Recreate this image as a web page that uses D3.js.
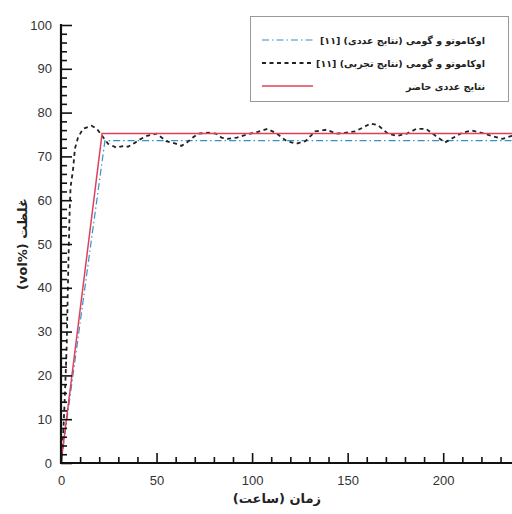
<!DOCTYPE html>
<html>
<head>
<meta charset="utf-8">
<script src="https://cdn.jsdelivr.net/npm/d3@7"></script>
<style>
  html, body { margin: 0; padding: 0; background: #fff; }
  svg { display: block; }
</style>
</head>
<body>
<svg id="chart" width="512" height="514"></svg>
<script>
// Hydrogen concentration over time: present simulation vs. Okamoto & Gomi [11]
const presentTime = [0, 21.5, 240];
const presentConc = [0, 75.2, 75.2];

const okaNumTime = [0, 23, 240];
const okaNumConc = [0, 73.6, 73.6];

const okaExpTime = [0, 1, 2, 3, 3.5, 4, 4.5, 5, 6.3, 7.3, 8.9, 11.5, 16, 18.8, 21.5, 24.6, 29,
  33, 35, 39, 41, 45, 50, 55, 60, 63, 66, 69, 72, 77, 81, 84, 87, 92, 95,
  99, 103, 108, 113, 118, 123, 128, 133, 139, 144, 149, 154, 158, 162,
  166, 171, 176, 181, 186, 191, 196, 201, 205, 210, 215, 220, 225, 231, 236, 240];
const okaExpConc = [0, 5, 15, 27, 38, 48, 57, 63, 67, 71.8, 74.3, 76.3, 77, 76.3, 74.7, 72.9, 72,
  72.4, 72.2, 73.2, 73.8, 74.7, 75.2, 73.5, 72.9, 72.4, 73.2, 74.3, 75.2, 75.4, 75.2, 74.3, 74, 74.3, 74.7,
  75.2, 75.6, 76.3, 75.2, 73.5, 72.9, 73.5, 75.7, 76.1, 75.2, 75.4, 75.7, 76.6, 77.5,
  77.1, 75.2, 74.7, 75.2, 76.3, 76.3, 74.7, 73.2, 74.2, 75.4, 75.9, 75.4, 74.7, 74, 74.7, 75];

const xTicks = [0, 50, 100, 150, 200];
const yTicks = [0, 10, 20, 30, 40, 50, 60, 70, 80, 90, 100];

const legendLabels = [
  "اوکاموتو و گومی (نتایج عددی) [۱۱]",
  "اوکاموتو و گومی (نتایج تجربی) [۱۱]",
  "نتایج عددی حاضر"
];
const xTitle = "زمان (ساعت)";
const yTitleWord = "غلظت";
const yTitleUnit = "(vol%)";

const svg = d3.select("#chart");
const x = d3.scaleLinear().domain([0, 236]).range([61, 512]);
const y = d3.scaleLinear().domain([0, 100]).range([463, 25]);

const line = d3.line().x(d => x(d[0])).y(d => y(d[1]));
svg.append("clipPath").attr("id", "plot")
  .append("rect").attr("x", 61).attr("y", 0).attr("width", 451).attr("height", 464);

const series = [
  { t: okaNumTime, v: okaNumConc, color: "#3a8fc8", width: 1.2, dash: "7,3,1.5,3" },
  { t: okaExpTime, v: okaExpConc, color: "#222", width: 1.8, dash: "4,3.5" },
  { t: presentTime, v: presentConc, color: "#e0405a", width: 1.5, dash: null }
];

const plot = svg.append("g").attr("clip-path", "url(#plot)");
series.forEach(s => {
  plot.append("path")
    .datum(d3.zip(s.t, s.v))
    .attr("d", line)
    .attr("fill", "none")
    .attr("stroke", s.color)
    .attr("stroke-width", s.width)
    .attr("stroke-dasharray", s.dash);
});

// Axes: major ticks with labels, minor ticks pointing inward
const xAxis = d3.axisBottom(x).tickValues(xTicks).tickSize(-10).tickPadding(13).tickFormat(d3.format("d"));
const xMinor = d3.axisBottom(x).tickValues(d3.range(0, 240, 10).filter(v => v % 50 !== 0)).tickSize(-6).tickFormat("");
const yAxis = d3.axisLeft(y).tickValues(yTicks).tickSize(-11).tickPadding(9).tickFormat(d3.format("d"));
const yMinor = d3.axisLeft(y).tickValues(d3.range(0, 100, 2).filter(v => v % 10 !== 0)).tickSize(-6).tickFormat("");

function styleAxis(g) {
  g.select(".domain").remove();
  g.selectAll(".tick line").attr("stroke", "#111").attr("stroke-width", 1.6);
  g.selectAll(".tick text").attr("fill", "#333").style("font-family", "Arial, 'Liberation Sans', sans-serif").style("font-size", "13px");
}
svg.append("g").attr("transform", "translate(0,463)").call(xMinor).call(styleAxis);
svg.append("g").attr("transform", "translate(0,463)").call(xAxis).call(styleAxis);
svg.append("g").attr("transform", "translate(61,0)").call(yMinor).call(styleAxis);
svg.append("g").attr("transform", "translate(61,0)").call(yAxis).call(styleAxis);

svg.append("line").attr("x1", 61).attr("x2", 512).attr("y1", 463).attr("y2", 463)
  .attr("stroke", "#111").attr("stroke-width", 2.2);
svg.append("line").attr("x1", 61).attr("x2", 61).attr("y1", 24).attr("y2", 464)
  .attr("stroke", "#111").attr("stroke-width", 2.2);

// Axis titles
svg.append("text")
  .attr("x", x(113)).attr("y", 503)
  .attr("text-anchor", "middle").attr("direction", "rtl")
  .style("font-family", "'DejaVu Sans', sans-serif").style("font-size", "13px").style("font-weight", "bold")
  .attr("fill", "#222").text(xTitle);
const yTitle = svg.append("text")
  .attr("transform", "translate(27,244) rotate(-90)")
  .attr("text-anchor", "middle")
  .style("font-family", "'DejaVu Sans', sans-serif").style("font-size", "13px").style("font-weight", "bold")
  .attr("fill", "#222");
yTitle.append("tspan").text(yTitleUnit + " ");
yTitle.append("tspan").text(yTitleWord);

// Legend
const lg = svg.append("g");
lg.append("rect").attr("x", 250.5).attr("y", 16.5).attr("width", 258).attr("height", 85)
  .attr("fill", "#fff").attr("stroke", "#999").attr("stroke-width", 1);
const rowsY = [40, 63, 86];
series.forEach((s, i) => {
  lg.append("line").attr("x1", 262).attr("x2", 313).attr("y1", rowsY[i]).attr("y2", rowsY[i])
    .attr("stroke", s.color).attr("stroke-width", s.width).attr("stroke-dasharray", s.dash);
  lg.append("text").attr("x", 485).attr("y", rowsY[i] + 4)
    .attr("text-anchor", "start").attr("direction", "rtl")
    .style("font-family", "'DejaVu Sans', sans-serif").style("font-size", "9.5px").style("font-weight", "bold")
    .attr("fill", "#222").text(legendLabels[i]);
});
</script>
</body>
</html>
